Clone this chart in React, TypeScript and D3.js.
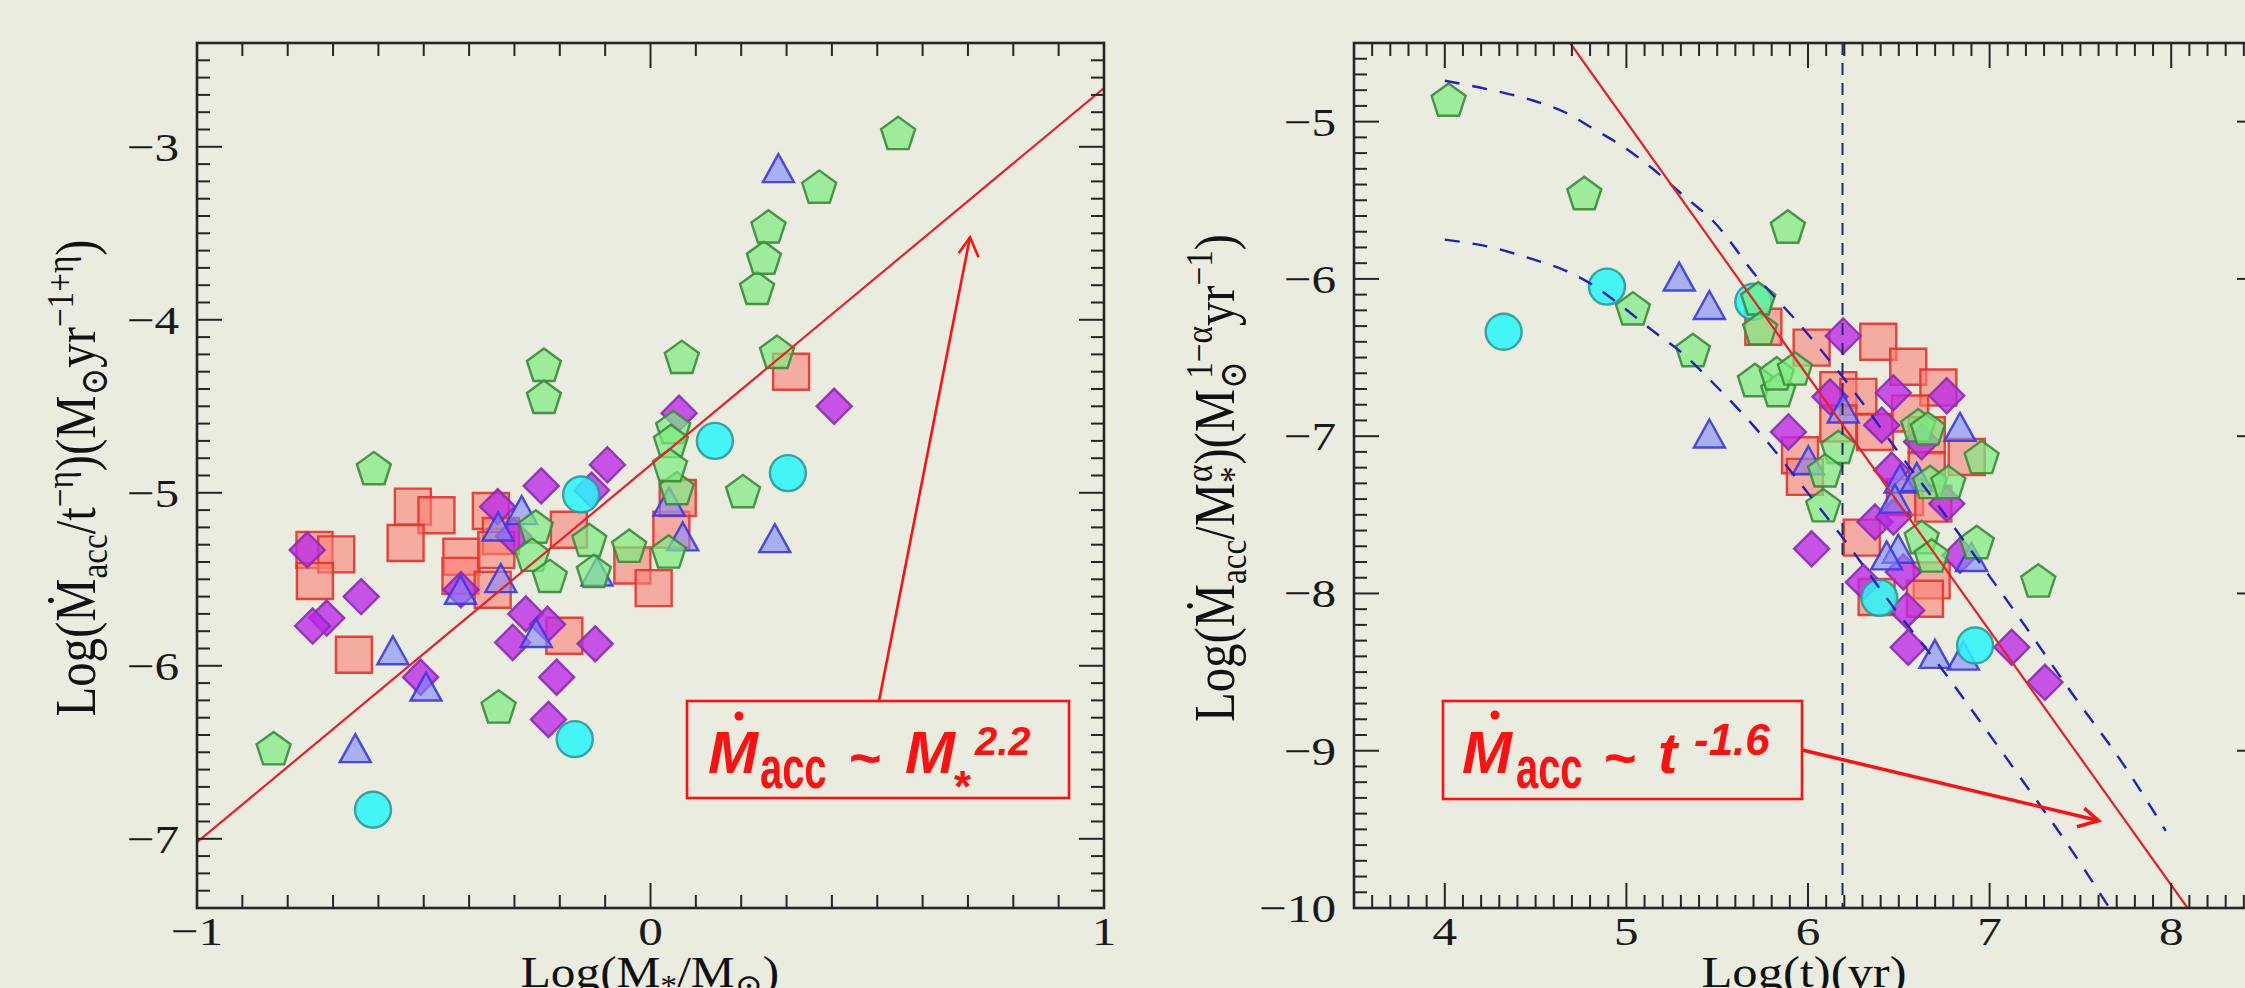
import React from 'react';
import * as d3 from 'd3';

type Pt = [number, number];

// ---------------- Left panel: Log(M*/Msun) vs Log(Macc / t^-eta) ----------------
const leftSquares: Pt[] = [
  [-0.524, -5.08], [-0.472, -5.13], [-0.540, -5.29], [-0.741, -5.33], [-0.693, -5.356],
  [-0.740, -5.51], [-0.654, -5.936], [-0.417, -5.37], [-0.419, -5.48], [-0.348, -5.56],
  [-0.352, -5.105], [-0.33, -5.25], [-0.34, -5.33], [-0.18, -5.214], [-0.19, -5.826],
  [0.046, -5.214], [0.06, -5.03], [-0.04, -5.42], [0.007, -5.551], [0.31, -4.30],
];
const leftDiamonds: Pt[] = [
  [-0.757, -5.33], [-0.638, -5.60], [-0.714, -5.724], [-0.745, -5.77], [-0.337, -5.08],
  [-0.302, -5.25], [-0.241, -4.96], [-0.095, -4.838], [-0.13, -4.985], [-0.418, -5.56],
  [-0.275, -5.70], [-0.227, -5.76], [-0.304, -5.865], [-0.122, -5.873], [-0.207, -6.066],
  [-0.507, -6.066], [-0.225, -6.31], [0.405, -4.50], [0.063, -4.54],
];
const leftTriangles: Pt[] = [
  [-0.568, -5.91], [-0.495, -6.12], [-0.651, -6.476], [-0.33, -5.493], [-0.284, -5.10],
  [-0.336, -5.195], [-0.419, -5.56], [-0.252, -5.81], [-0.118, -5.455], [0.071, -5.252],
  [0.041, -5.05], [0.274, -5.262], [0.282, -3.123],
];
const leftCircles: Pt[] = [
  [-0.153, -5.01], [0.142, -4.70], [0.303, -4.886], [-0.167, -6.424], [-0.612, -6.832],
];
const leftPentagons: Pt[] = [
  [-0.831, -6.476], [-0.610, -4.857], [-0.335, -6.235], [-0.253, -5.195], [-0.261, -5.358],
  [-0.222, -5.48], [-0.235, -4.26], [-0.235, -4.445], [-0.135, -5.272], [-0.125, -5.451],
  [-0.047, -5.306], [0.040, -5.339], [0.058, -4.973], [0.05, -4.62], [0.045, -4.70],
  [0.043, -4.84], [0.069, -4.214], [0.204, -4.99], [0.279, -4.185], [0.235, -3.815],
  [0.25, -3.64], [0.26, -3.46], [0.372, -3.23], [0.546, -2.92],
];
const leftFitLine: Pt[] = [[-1, -7.02], [1, -2.66]];
const leftXTickLabels = [-1, 0, 1];
const leftYTickLabels = [-7, -6, -5, -4, -3];

// ---------------- Right panel: Log(t) vs Log(Macc / M*^alpha) ----------------
const rightSquares: Pt[] = [
  [5.754, -6.304], [6.020, -6.437], [6.387, -6.40], [6.552, -6.559], [6.718, -6.69],
  [6.167, -6.707], [6.277, -6.75], [6.167, -6.919], [6.369, -6.973], [6.562, -6.856],
  [6.654, -6.994], [6.874, -7.132], [6.654, -7.217], [5.956, -7.121], [5.983, -7.259],
  [6.534, -7.387], [6.690, -7.429], [6.296, -7.645], [6.681, -7.917], [6.378, -8.023],
  [6.644, -8.034],
];
const rightDiamonds: Pt[] = [
  [6.194, -6.363], [6.470, -6.724], [6.764, -6.743], [6.121, -6.75], [5.892, -6.973],
  [6.406, -6.93], [6.626, -7.036], [6.461, -7.217], [6.764, -7.429], [6.369, -7.546],
  [6.470, -7.514], [6.020, -7.716], [6.837, -7.758], [6.525, -7.864], [6.305, -7.928],
  [6.543, -8.108], [6.552, -8.342], [7.122, -8.342], [7.305, -8.565],
];
const rightTriangles: Pt[] = [
  [6.194, -6.824], [6.837, -6.941], [6.002, -7.153], [6.507, -7.27], [6.599, -7.259],
  [6.479, -7.397], [6.497, -7.716], [6.433, -7.758], [6.699, -8.384], [6.855, -8.395],
  [6.901, -7.768], [5.291, -5.985], [5.457, -6.166], [5.457, -6.983],
];
const rightCircles: Pt[] = [
  [4.324, -6.336], [4.893, -6.049], [5.699, -6.145], [6.393, -8.028], [6.920, -8.331],
];
const rightPentagons: Pt[] = [
  [4.021, -4.86], [4.768, -5.454], [5.889, -5.667], [5.036, -6.187], [5.366, -6.452],
  [5.726, -6.123], [5.736, -6.314], [5.708, -6.643], [5.836, -6.707], [5.828, -6.60],
  [5.928, -6.569], [6.167, -7.068], [6.094, -7.217], [6.084, -7.439], [6.607, -6.93],
  [6.66, -6.95], [6.956, -7.132], [6.672, -7.291], [6.773, -7.291], [6.626, -7.641],
  [6.681, -7.758], [6.929, -7.673], [7.268, -7.917],
];
const rightFitLine: Pt[] = [[4.69, -4.5], [8.09, -10]];
const rightUpperModel: Pt[] = [
  [4.0, -4.74], [4.26, -4.80], [4.47, -4.86], [4.67, -4.945], [4.81, -5.04], [4.97, -5.15],
  [5.14, -5.295], [5.32, -5.476], [5.48, -5.635], [5.71, -5.975], [5.98, -6.325],
  [6.24, -6.696], [6.49, -7.089], [6.73, -7.461], [6.97, -7.843], [7.20, -8.214],
  [7.43, -8.597], [7.76, -9.127], [7.97, -9.51],
];
const rightLowerModel: Pt[] = [
  [4.0, -5.75], [4.26, -5.80], [4.47, -5.87], [4.67, -5.95], [4.83, -6.05], [4.97, -6.17],
  [5.14, -6.325], [5.32, -6.484], [5.48, -6.665], [5.63, -6.845], [5.75, -7.0],
  [5.98, -7.333], [6.23, -7.705], [6.47, -8.087], [6.73, -8.469], [6.97, -8.85],
  [7.2, -9.22], [7.45, -9.63], [7.66, -10.0],
];
const rightAgeLine = 6.19;
const rightXTickLabels = [4, 5, 6, 7, 8];
const rightYTickLabels = [-10, -9, -8, -7, -6, -5];

// ---------------- layout ----------------
const W = 2245;
const H = 988;
const BG = '#e9ecdf';
const SERIF = "'Liberation Serif', 'DejaVu Serif', serif";
const SANS = "'Liberation Sans', Arial, sans-serif";

const L = { x0: 197, x1: 1104, y0: 43, y1: 908 };
const R = { x0: 1354, x1: 2262, y0: 43, y1: 908 };

const xL = d3.scaleLinear().domain([-1, 1]).range([L.x0, L.x1]);
const yL = d3.scaleLinear().domain([-7.4, -2.4]).range([L.y1, L.y0]);
const xR = d3.scaleLinear().domain([3.5, 8.5]).range([R.x0, R.x1]);
const yR = d3.scaleLinear().domain([-10, -4.5]).range([R.y1, R.y0]);

type Kind = 'square' | 'diamond' | 'triangle' | 'circle' | 'pentagon';
const STY: Record<Kind, { fill: string; stroke: string }> = {
  square: { fill: 'rgba(252,128,118,0.6)', stroke: '#e8322c' },
  diamond: { fill: 'rgba(189,40,232,0.78)', stroke: '#8a2cb0' },
  triangle: { fill: 'rgba(128,136,250,0.6)', stroke: '#3a3ae0' },
  circle: { fill: 'rgba(40,246,249,0.85)', stroke: '#2c9a9a' },
  pentagon: { fill: 'rgba(123,236,127,0.7)', stroke: '#3c8a3c' },
};

function shapePath(kind: Kind, x: number, y: number): string {
  switch (kind) {
    case 'square':
      return `M${x - 18},${y - 18}h36v36h-36Z`;
    case 'diamond':
      return `M${x},${y - 17.5}L${x + 17.5},${y}L${x},${y + 17.5}L${x - 17.5},${y}Z`;
    case 'triangle':
      return `M${x},${y - 14}L${x + 15.5},${y + 14}L${x - 15.5},${y + 14}Z`;
    case 'pentagon': {
      const Rr = 17.9;
      const cy = y + 1.7;
      const pts = d3.range(5).map((k) => {
        const a = -Math.PI / 2 + (k * 2 * Math.PI) / 5;
        return [x + Rr * Math.cos(a), cy + Rr * Math.sin(a)];
      });
      return 'M' + pts.map((p) => p.join(',')).join('L') + 'Z';
    }
    default:
      return '';
  }
}

function Markers({ data, kind, sx, sy }: { data: Pt[]; kind: Kind; sx: any; sy: any }) {
  const s = STY[kind];
  return (
    <g fill={s.fill} stroke={s.stroke} strokeWidth={2.4} strokeOpacity={0.9}>
      {data.map((d, i) =>
        kind === 'circle' ? (
          <circle key={i} cx={sx(d[0])} cy={sy(d[1])} r={18} />
        ) : (
          <path key={i} d={shapePath(kind, sx(d[0]), sy(d[1]))} />
        )
      )}
    </g>
  );
}

const fmt = (v: number) => (v < 0 ? '\u2212' + Math.abs(v) : String(v));
const isMajor = (v: number) => Math.abs(v - Math.round(v)) < 1e-6;

function Frame({ sx, sy, box, nx, ny, xLabels, yLabels }: any) {
  const xt: number[] = sx.ticks(nx);
  const yt: number[] = sy.ticks(ny);
  const maj = 25;
  const min = 13;
  return (
    <g>
      <g stroke="#262626" strokeWidth={2}>
        {xt.map((v, i) => {
          const x = sx(v);
          const len = isMajor(v) ? maj : min;
          return (
            <g key={'x' + i}>
              <line x1={x} x2={x} y1={box.y1} y2={box.y1 - len} />
              <line x1={x} x2={x} y1={box.y0} y2={box.y0 + len} />
            </g>
          );
        })}
        {yt.map((v, i) => {
          const y = sy(v);
          const len = isMajor(v) ? maj : min;
          return (
            <g key={'y' + i}>
              <line x1={box.x0} x2={box.x0 + len} y1={y} y2={y} />
              <line x1={box.x1} x2={box.x1 - len} y1={y} y2={y} />
            </g>
          );
        })}
      </g>
      <rect
        x={box.x0}
        y={box.y0}
        width={box.x1 - box.x0}
        height={box.y1 - box.y0}
        fill="none"
        stroke="#262626"
        strokeWidth={2.6}
      />
      <g fontFamily={SERIF} fontSize={41} fill="#1a1a1a">
        {xLabels.map((v: number) => (
          <text key={'xl' + v} transform={`translate(${sx(v)},${box.y1 + 37}) scale(1.2,1)`} textAnchor="middle">
            {fmt(v)}
          </text>
        ))}
        {yLabels.map((v: number) => (
          <text key={'yl' + v} transform={`translate(${box.x0 - 18},${sy(v) + 14}) scale(1.2,1)`} textAnchor="end">
            {fmt(v)}
          </text>
        ))}
      </g>
    </g>
  );
}

export default function App() {
  const lineL = d3.line<Pt>().x((d) => xL(d[0])).y((d) => yL(d[1]));
  const lineR = d3.line<Pt>().x((d) => xR(d[0])).y((d) => yR(d[1]));
  const curveR = d3
    .line<Pt>()
    .x((d) => xR(d[0]))
    .y((d) => yR(d[1]))
    .curve(d3.curveMonotoneX);

  const red = '#ff1010';

  return (
    <svg
      width={W}
      height={H}
      viewBox={`0 0 ${W} ${H}`}
      style={{ position: 'absolute', left: 0, top: 0, display: 'block' }}
    >
      <defs>
        <linearGradient id="topline" x1="0" x2="1" y1="0" y2="0">
          <stop offset="0%" stopColor="#4a7ebb" stopOpacity={0} />
          <stop offset="35%" stopColor="#4a7ebb" stopOpacity={0.6} />
          <stop offset="100%" stopColor="#4a7ebb" stopOpacity={1} />
        </linearGradient>
        <clipPath id="clipR">
          <rect x={R.x0} y={R.y0} width={R.x1 - R.x0} height={R.y1 - R.y0} />
        </clipPath>
        <clipPath id="clipL">
          <rect x={L.x0} y={L.y0} width={L.x1 - L.x0} height={L.y1 - L.y0} />
        </clipPath>
      </defs>
      <rect x={0} y={0} width={W} height={H} fill={BG} />
      <line x1={800} x2={W} y1={2} y2={2} stroke="url(#topline)" strokeWidth={3} />

      {/* ---------- Left panel ---------- */}
      <g clipPath="url(#clipL)">
        <Markers data={leftSquares} kind="square" sx={xL} sy={yL} />
        <Markers data={leftDiamonds} kind="diamond" sx={xL} sy={yL} />
        <Markers data={leftTriangles} kind="triangle" sx={xL} sy={yL} />
        <Markers data={leftCircles} kind="circle" sx={xL} sy={yL} />
        <Markers data={leftPentagons} kind="pentagon" sx={xL} sy={yL} />
        <path d={lineL(leftFitLine) || ''} fill="none" stroke="#e8202a" strokeWidth={2.2} />
      </g>
      <Frame sx={xL} sy={yL} box={L} nx={20} ny={50} xLabels={leftXTickLabels} yLabels={leftYTickLabels} />

      <text transform="translate(650,987) scale(1.12,1)" textAnchor="middle" fontFamily={SERIF} fontSize={44} fill="#111">
        Log(M
        <tspan fontSize={30} dy={8}>*</tspan>
        <tspan dy={-8}>/M</tspan>
        <tspan fontSize={30} dy={8}>⊙</tspan>
        <tspan dy={-8}>)</tspan>
      </text>
      <text
        transform="translate(95,478) rotate(-90) scale(1,1.28)"
        textAnchor="middle"
        fontFamily={SERIF}
        fontSize={44}
        fill="#111"
        textLength={477}
        lengthAdjust="spacingAndGlyphs"
      >
        Log(Ṁ
        <tspan fontSize={30} dy={9}>acc</tspan>
        <tspan dy={-9}>/t</tspan>
        <tspan fontSize={30} dy={-17}>−η</tspan>
        <tspan dy={17}>)(M</tspan>
        <tspan fontSize={30} dy={9}>⊙</tspan>
        <tspan dy={-9}>yr</tspan>
        <tspan fontSize={30} dy={-17}>−1+η</tspan>
        <tspan dy={17}>)</tspan>
      </text>

      {/* ---------- Right panel ---------- */}
      <g clipPath="url(#clipR)">
        <Markers data={rightSquares} kind="square" sx={xR} sy={yR} />
        <Markers data={rightDiamonds} kind="diamond" sx={xR} sy={yR} />
        <Markers data={rightTriangles} kind="triangle" sx={xR} sy={yR} />
        <Markers data={rightCircles} kind="circle" sx={xR} sy={yR} />
        <Markers data={rightPentagons} kind="pentagon" sx={xR} sy={yR} />
        <line
          x1={xR(rightAgeLine)}
          x2={xR(rightAgeLine)}
          y1={R.y0}
          y2={R.y1}
          stroke="#1c2d6a"
          strokeWidth={2}
          strokeDasharray="12,8"
        />
        <path d={curveR(rightUpperModel) || ''} fill="none" stroke="#2222b8" strokeWidth={2.4} strokeDasharray="15,13" />
        <path d={curveR(rightLowerModel) || ''} fill="none" stroke="#2222b8" strokeWidth={2.4} strokeDasharray="15,13" />
        <path d={lineR(rightFitLine) || ''} fill="none" stroke="#e8202a" strokeWidth={2.2} />
      </g>
      <Frame sx={xR} sy={yR} box={R} nx={50} ny={55} xLabels={rightXTickLabels} yLabels={rightYTickLabels} />

      <text transform="translate(1804,987) scale(1.15,1)" textAnchor="middle" fontFamily={SERIF} fontSize={44} fill="#111">
        Log(t)(yr)
      </text>
      <text
        transform="translate(1234,478) rotate(-90) scale(1,1.28)"
        textAnchor="middle"
        fontFamily={SERIF}
        fontSize={44}
        fill="#111"
        textLength={488}
        lengthAdjust="spacingAndGlyphs"
      >
        Log(Ṁ
        <tspan fontSize={30} dy={9}>acc</tspan>
        <tspan dy={-9}>/M</tspan>
        <tspan fontSize={30} dy={9}>*</tspan>
        <tspan fontSize={30} dx={-14} dy={-26}>α</tspan>
        <tspan dy={17}>)(M</tspan>
        <tspan fontSize={30} dy={9}>⊙</tspan>
        <tspan fontSize={30} dx={-16} dy={-26}>1−α</tspan>
        <tspan dy={17}>yr</tspan>
        <tspan fontSize={30} dy={-17}>−1</tspan>
        <tspan dy={17}>)</tspan>
      </text>

      {/* ---------- Annotations ---------- */}
      <g fill={red}>
        {/* left box */}
        <rect x={687} y={701} width={382} height={97} fill="none" stroke={red} strokeWidth={2.6} />
        <text x={708} y={773} fontFamily={SANS} fontWeight="bold" fontStyle="italic" fontSize={60}>M</text>
        <circle cx={739} cy={716} r={4.5} />
        <text transform="translate(760,788) scale(0.95,1.4)" fontFamily={SANS} fontWeight="bold" fontSize={42}>acc</text>
        <text x={849} y={777} fontFamily={SANS} fontWeight="bold" fontSize={56}>~</text>
        <text x={905} y={773} fontFamily={SANS} fontWeight="bold" fontStyle="italic" fontSize={60}>M</text>
        <text x={954} y={802} fontFamily={SANS} fontWeight="bold" fontSize={44}>*</text>
        <text x={975} y={755} fontFamily={SANS} fontWeight="bold" fontStyle="italic" fontSize={40}>2.2</text>
        <line x1={879} y1={701} x2={970} y2={237} stroke={red} strokeWidth={2.6} />
        <polyline points="958.6,253.3 970,237.3 978.6,257.3" fill="none" stroke={red} strokeWidth={2.6} />

        {/* right box */}
        <rect x={1443} y={701} width={359} height={98} fill="none" stroke={red} strokeWidth={2.6} />
        <text x={1462} y={773} fontFamily={SANS} fontWeight="bold" fontStyle="italic" fontSize={60}>M</text>
        <circle cx={1495} cy={715} r={4.5} />
        <text transform="translate(1516,788) scale(0.95,1.4)" fontFamily={SANS} fontWeight="bold" fontSize={42}>acc</text>
        <text x={1604} y={777} fontFamily={SANS} fontWeight="bold" fontSize={56}>~</text>
        <text x={1658} y={773} fontFamily={SANS} fontWeight="bold" fontStyle="italic" fontSize={58}>t</text>
        <text x={1694} y={755} fontFamily={SANS} fontWeight="bold" fontStyle="italic" fontSize={44}>-1.6</text>
        <line x1={1802} y1={750} x2={2098} y2={820.5} stroke={red} strokeWidth={3.5} />
        <polyline points="2084.3,808.3 2098.6,820.7 2077,826.7" fill="none" stroke={red} strokeWidth={3.5} />
      </g>
    </svg>
  );
}
